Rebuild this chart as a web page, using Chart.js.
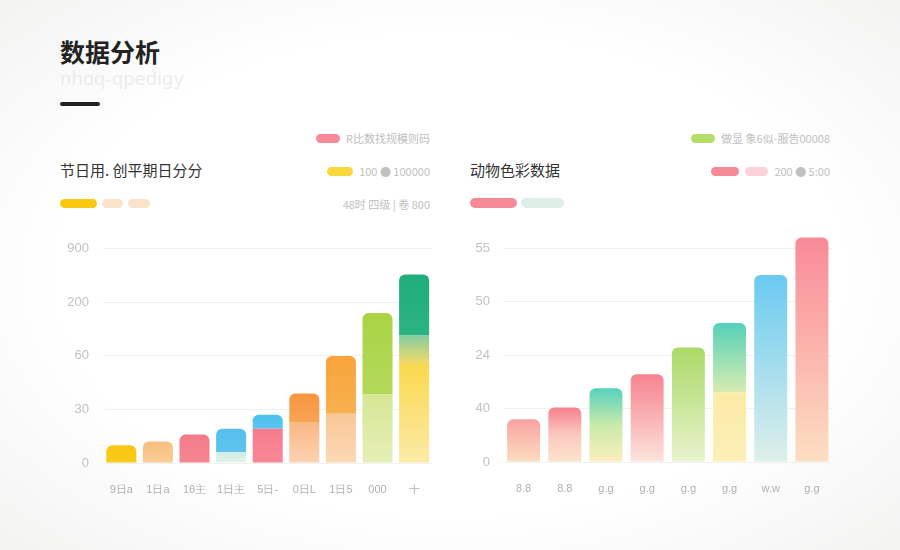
<!DOCTYPE html>
<html>
<head>
<meta charset="utf-8">
<script src="https://cdn.jsdelivr.net/npm/chart.js@4.4.0/dist/chart.umd.min.js"></script>
<style>
  html, body { margin: 0; padding: 0; }
  body {
    width: 900px; height: 550px; position: relative; overflow: hidden;
    background: radial-gradient(ellipse at center, #ffffff 62%, #f3f3f2 100%);
    font-family: "Noto Sans CJK SC", "Noto Sans", sans-serif;
  }
  .abs { position: absolute; }
  .title { left: 60px; top: 33px; font-size: 25px; font-weight: 700; color: #222; }
  .sub { left: 60px; top: 68px; font-size: 18px; font-weight: 400; color: #ececec; font-family: "DejaVu Sans", sans-serif; }
  .rule { left: 60px; top: 102px; width: 40px; height: 4px; border-radius: 2px; background: #222; }
  .h2 { font-size: 15px; color: #333; top: 159px; }
  .pill { display: inline-block; border-radius: 5px; }
  .legend { display: flex; align-items: center; justify-content: flex-end; gap: 6px; font-size: 11px; color: #c0c0c0; }
  canvas { position: absolute; }
</style>
</head>
<body>
<div class="abs title">数据分析</div>
<div class="abs sub">nhoq-qpedigy</div>
<div class="abs rule"></div>

<div class="abs h2" style="left:60px">节日用. 创平期日分分</div>
<div class="abs" style="left:60px; top:199px; display:flex; gap:5px">
  <span class="pill" style="width:37px;height:9px;background:#F9C810"></span>
  <span class="pill" style="width:21px;height:9px;background:#FBE3CB"></span>
  <span class="pill" style="width:22px;height:9px;background:#FBE3CB"></span>
</div>
<div class="abs legend" style="right:470px; top:130px">
  <span class="pill" style="width:24px;height:9px;background:#F58A96"></span><span>R比数找规模则码</span>
</div>
<div class="abs legend" style="right:470px; top:163px">
  <span class="pill" style="width:26px;height:9px;background:#F9D63A"></span><span>100 ● 100000</span>
</div>
<div class="abs legend" style="right:470px; top:196px">
  <span>48时 四级 | 卷 800</span>
</div>

<div class="abs h2" style="left:470px">动物色彩数据</div>
<div class="abs" style="left:470px; top:198px; display:flex; gap:4px">
  <span class="pill" style="width:47px;height:10px;background:#F58A96"></span>
  <span class="pill" style="width:43px;height:10px;background:#E0EEE8"></span>
</div>
<div class="abs legend" style="right:70px; top:130px">
  <span class="pill" style="width:24px;height:9px;background:#B5DD6A"></span><span>做显 象6似-服告00008</span>
</div>
<div class="abs legend" style="right:70px; top:163px">
  <span class="pill" style="width:28px;height:9px;background:#F58A96"></span>
  <span class="pill" style="width:23px;height:9px;background:#FBD3D6"></span><span>200 ● 5:00</span>
</div>

<canvas id="leftChart" width="400" height="280" style="left:40px; top:227px"></canvas>
<canvas id="rightChart" width="400" height="292" style="left:440px; top:214px"></canvas>

<script>
// 左图：节日数据（堆叠）
const leftLabels = ['9日a', '1日a', '1θ主', '1日主', '5日-', '0日L', '1日5', '000', '十'];
const leftTicks = ['0', '30', '60', '200', '900'];
const leftBase = [0.33, 0.40, 0.53, 0.20, 0.64, 0.75, 0.92, 1.28, 1.85];
const leftMid  = [0, 0, 0, 0, 0, 0, 0, 0, 0.53];
const leftTop  = [0, 0, 0, 0.44, 0.26, 0.55, 1.08, 1.52, 1.14];

// 右图：动物色彩数据
const rightLabels = ['8.8', '8.8', 'g.g', 'g.g', 'g.g', 'g.g', 'w.w', 'g.g'];
const rightTicks = ['0', '40', '24', '50', '55'];
const rightBase = [0.80, 1.02, 1.38, 1.64, 2.14, 1.30, 3.50, 4.20];
const rightTop  = [0, 0, 0, 0, 0, 1.30, 0, 0];

// 渐变颜色（上 -> 下）
const leftBaseColors = [
  ['#F9C710', '#F9CA1C'], ['#F8C07F', '#F9CB96'], ['#F47B88', '#F58792'],
  ['#D0EDE3', '#E4F3EC'], ['#F77C8C', '#F88897'], ['#F9B887', '#FCD3B2'],
  ['#F9C896', '#FCD9B6'], ['#D6E794', '#E6EFB8'], ['#F9D94E', '#FCEAA8']
];
const leftMidColors = [
  ['#fff', '#fff'], ['#fff', '#fff'], ['#fff', '#fff'], ['#fff', '#fff'], ['#fff', '#fff'],
  ['#fff', '#fff'], ['#fff', '#fff'], ['#fff', '#fff'], ['#84CDA0', '#F6DA68']
];
const leftTopColors = [
  ['#fff', '#fff'], ['#fff', '#fff'], ['#fff', '#fff'],
  ['#55BFEE', '#5EC4EE'], ['#4BC1EE', '#5AC6EF'], ['#F7963F', '#F8A455'],
  ['#F8A43A', '#F8B150'], ['#AAD445', '#B4D95A'], ['#1FAE7B', '#2BB482']
];
const rightBaseColors = [
  ['#F9A3A0', '#FCDDC0'], ['#F6808F', '#FBC9C0', '#FCE3CC'], ['#56D1BF', '#C9EBA8', '#FCEDBE'],
  ['#F7838F', '#FCE4DC'], ['#A9DA66', '#E9F3CE'], ['#FCEAA6', '#FCEFB8'],
  ['#6ACAF1', '#DFF0EA'], ['#F98A97', '#FDDFC2']
];
const rightTopColors = [
  ['#fff', '#fff'], ['#fff', '#fff'], ['#fff', '#fff'], ['#fff', '#fff'],
  ['#fff', '#fff'], ['#55D0BA', '#D8EDB0'], ['#fff', '#fff'], ['#fff', '#fff']
];

function gradientFor(colors) {
  return function (ctx) {
    const stops = colors[ctx.dataIndex] || colors[0];
    const chart = ctx.chart;
    if (!chart.chartArea || ctx.dataIndex === undefined) return stops[0];
    const y = chart.scales.y;
    let base = 0;
    for (let d = 0; d < ctx.datasetIndex; d++) base += chart.data.datasets[d].data[ctx.dataIndex];
    const top = base + chart.data.datasets[ctx.datasetIndex].data[ctx.dataIndex];
    const g = chart.ctx.createLinearGradient(0, y.getPixelForValue(top), 0, y.getPixelForValue(base));
    stops.forEach((c, i) => g.addColorStop(i / (stops.length - 1), c));
    return g;
  };
}

function topRadius(ctx) {
  const ds = ctx.chart.data.datasets;
  for (let d = ctx.datasetIndex + 1; d < ds.length; d++) {
    if (ds[d].data[ctx.dataIndex] > 0) return 0;
  }
  return { topLeft: 6, topRight: 6, bottomLeft: 0, bottomRight: 0 };
}

function makeChart(id, labels, ticks, sets, barPct, tickPad, yMax) {
  return new Chart(document.getElementById(id), {
    type: 'bar',
    data: {
      labels: labels,
      datasets: sets.map(s => ({
        data: s.data,
        backgroundColor: gradientFor(s.colors),
        borderWidth: 0,
        borderSkipped: false,
        borderRadius: topRadius,
        barPercentage: barPct,
        categoryPercentage: 1
      }))
    },
    options: {
      responsive: false,
      animation: false,
      layout: { padding: { top: 0, right: 7, left: 0, bottom: 0 } },
      plugins: { legend: { display: false }, tooltip: { enabled: false } },
      scales: {
        x: {
          stacked: true,
          grid: { display: false, drawTicks: false },
          border: { display: false },
          ticks: { color: '#b0b0b0', font: { size: 11 }, padding: 20 },
          afterFit: a => { a.height = 44; }
        },
        y: {
          stacked: true,
          min: 0, max: yMax,
          grid: { color: '#f1f1ed', drawTicks: false },
          border: { display: false },
          ticks: {
            padding: tickPad, color: '#c2c2c2', font: { size: 13 },
            callback: v => ticks[v]
          },
          afterBuildTicks: a => { a.ticks = ticks.map((t, i) => ({ value: i })); },
          afterFit: a => { a.width = 63; }
        }
      }
    }
  });
}

makeChart('leftChart', leftLabels, leftTicks, [
  { data: leftBase, colors: leftBaseColors },
  { data: leftMid, colors: leftMidColors },
  { data: leftTop, colors: leftTopColors }
], 0.82, 14, 4);

makeChart('rightChart', rightLabels, rightTicks, [
  { data: rightBase, colors: rightBaseColors },
  { data: rightTop, colors: rightTopColors }
], 0.8, 13, 4.25);
</script>
</body>
</html>
